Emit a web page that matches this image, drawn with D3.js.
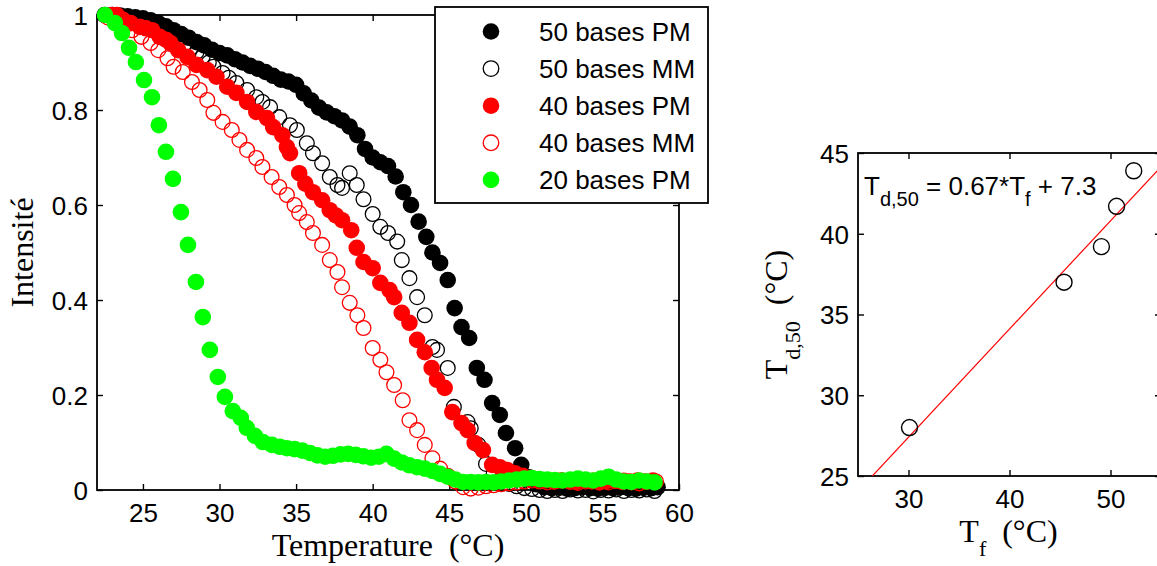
<!DOCTYPE html>
<html>
<head>
<meta charset="utf-8">
<script src="https://cdn.jsdelivr.net/npm/d3@7"></script>
<style>
  html, body { margin: 0; padding: 0; background: #fff; }
  svg { display: block; }
  text { white-space: pre; }
</style>
</head>
<body>
<svg id="fig" width="1157" height="566"></svg>
<script>
// Melting curves: [temperature (°C), normalised intensity]
const pm50 = [[22.5,1.0],[23.0,1.0],[23.5,0.999],[24.0,0.997],[24.5,0.995],[25.0,0.993],[25.5,0.989],[26.0,0.983],[26.5,0.976],[27.0,0.968],
  [27.5,0.96],[28.0,0.952],[28.5,0.943],[29.0,0.936],[29.5,0.927],[30.0,0.92],[30.5,0.915],[31.0,0.907],[31.5,0.9],[32.0,0.893],
  [32.5,0.887],[33.0,0.88],[33.5,0.872],[34.0,0.864],[34.5,0.86],[35.0,0.853],[35.5,0.835],[36.0,0.82],[36.5,0.805],[37.0,0.795],
  [37.5,0.787],[38.0,0.778],[38.5,0.765],[39.0,0.747],[39.5,0.718],[40.0,0.7],[40.5,0.69],[41.0,0.682],[41.5,0.66],[42.0,0.627],
  [42.5,0.6],[43.0,0.565],[43.5,0.533],[43.9,0.5],[44.4,0.478],[44.9,0.442],[45.35,0.383],[45.8,0.343],[46.3,0.32],[46.8,0.257],
  [47.3,0.232],[47.8,0.183],[48.3,0.158],[48.7,0.12],[49.3,0.088],[49.7,0.053],[50.2,0.027],[50.7,0.012],[51.2,0.006],[51.7,0.004],
  [52.2,0.005],[52.7,0.003],[53.2,0.004],[53.7,0.006],[54.2,0.004],[54.7,0.003],[55.2,0.005],[55.7,0.004],[56.2,0.006],[56.7,0.004],
  [57.2,0.003],[57.7,0.005],[58.2,0.004],[58.6,0.006]];

const mm50 = [[22.5,1.0],[23.0,0.998],[23.5,0.995],[24.2,0.99],[25.0,0.979],[25.9,0.964],[26.6,0.954],[27.2,0.943],[27.7,0.937],[28.1,0.93],
  [28.5,0.922],[28.9,0.912],[29.3,0.9],[29.6,0.891],[30.2,0.878],[30.6,0.868],[31.1,0.857],[31.8,0.842],[32.4,0.827],[32.8,0.817],
  [33.3,0.806],[33.9,0.785],[34.6,0.768],[35.05,0.758],[35.7,0.73],[36.1,0.709],[36.7,0.688],[37.2,0.659],[37.7,0.642],[38.0,0.636],
  [38.5,0.667],[38.96,0.642],[39.4,0.612],[40.0,0.581],[40.5,0.554],[41.0,0.541],[41.6,0.523],[41.9,0.484],[42.4,0.446],[42.9,0.406],
  [43.4,0.368],[43.9,0.301],[44.2,0.295],[44.9,0.257],[45.3,0.175],[46.2,0.143],[46.4,0.13],[46.9,0.095],[47.4,0.055],[47.9,0.035],
  [48.4,0.022],[48.9,0.013],[49.4,0.008],[49.9,0.004],[50.4,0.002],[50.9,0.0],[51.4,-0.002],[51.9,0.0],[52.4,-0.002],[52.9,0.001],
  [53.4,-0.001],[53.9,0.0],[54.4,-0.003],[54.9,0.0],[55.4,-0.001],[55.9,0.001],[56.4,-0.002],[56.9,0.0],[57.4,-0.001],[57.9,0.001],
  [58.4,-0.002]];

const pm40 = [[23.0,1.0],[23.3,1.0],[23.7,0.99],[24.2,0.983],[24.8,0.975],[25.2,0.972],[25.6,0.968],[26.1,0.954],[26.5,0.948],[26.8,0.941],
  [27.3,0.926],[27.9,0.912],[28.5,0.895],[29.2,0.884],[29.8,0.87],[30.5,0.849],[31.1,0.836],[31.8,0.817],[32.4,0.796],[33.1,0.783],
  [33.5,0.764],[34.1,0.747],[34.4,0.722],[34.6,0.709],[35.2,0.667],[35.6,0.645],[36.1,0.627],[36.7,0.61],[37.2,0.589],[37.6,0.578],
  [38.0,0.568],[38.6,0.547],[38.96,0.51],[39.4,0.48],[40.0,0.467],[40.5,0.436],[41.1,0.421],[41.4,0.406],[41.9,0.373],[42.4,0.352],
  [42.9,0.316],[43.4,0.29],[43.85,0.257],[44.2,0.232],[44.7,0.215],[45.2,0.164],[45.8,0.141],[46.2,0.126],[46.66,0.099],[47.2,0.084],
  [47.8,0.053],[48.3,0.048],[48.8,0.042],[49.3,0.035],[49.8,0.03],[50.3,0.025],[50.8,0.022],[51.3,0.02],[51.8,0.018],[52.3,0.02],
  [52.8,0.019],[53.3,0.017],[53.8,0.02],[54.3,0.018],[54.8,0.016],[55.3,0.019],[55.8,0.02],[56.3,0.017],[56.8,0.018],[57.3,0.02],
  [57.8,0.018],[58.3,0.02]];

const mm40 = [[22.7,0.995],[23.2,0.99],[23.7,0.983],[24.3,0.968],[24.9,0.954],[25.5,0.941],[26.0,0.926],[26.6,0.909],[27.0,0.891],[27.6,0.88],
  [28.2,0.859],[28.7,0.842],[29.2,0.821],[29.6,0.794],[30.2,0.775],[30.8,0.758],[31.3,0.737],[31.8,0.716],[32.4,0.699],[32.8,0.68],
  [33.4,0.659],[33.9,0.638],[34.4,0.621],[34.9,0.6],[35.2,0.583],[35.7,0.564],[36.1,0.541],[36.7,0.516],[37.2,0.484],[37.7,0.459],
  [38.0,0.427],[38.5,0.394],[39.0,0.368],[39.4,0.341],[40.0,0.299],[40.5,0.274],[40.9,0.248],[41.4,0.221],[41.96,0.189],[42.4,0.147],
  [42.9,0.126],[43.4,0.095],[43.9,0.067],[44.4,0.045],[44.9,0.03],[45.4,0.018],[45.9,0.006],[46.4,0.003],[46.9,0.005],[47.4,0.008],
  [47.9,0.01],[48.4,0.012],[48.9,0.014],[49.4,0.016],[49.9,0.018],[50.4,0.02],[50.9,0.018],[51.4,0.016],[51.9,0.018],[52.4,0.02],
  [52.9,0.017],[53.4,0.015],[53.9,0.018],[54.4,0.02],[54.9,0.017],[55.4,0.016],[55.9,0.019],[56.4,0.02],[56.9,0.016],[57.4,0.014],
  [57.9,0.017],[58.5,0.018]];

const pm20 = [[22.52,1.0],[23.17,0.983],[23.63,0.962],[24.09,0.931],[24.54,0.901],[25.07,0.863],[25.59,0.827],[26.04,0.768],[26.5,0.712],[26.96,0.655],
  [27.48,0.585],[27.94,0.516],[28.46,0.438],[28.91,0.364],[29.37,0.295],[29.89,0.238],[30.35,0.196],[30.87,0.166],[31.39,0.152],[31.78,0.131],
  [32.31,0.114],[32.83,0.101],[33.42,0.095],[33.94,0.091],[34.4,0.088],[34.9,0.086],[35.4,0.083],[35.9,0.078],[36.4,0.073],[36.9,0.07],
  [37.4,0.072],[37.9,0.075],[38.4,0.076],[38.9,0.074],[39.4,0.071],[39.9,0.068],[40.4,0.07],[40.9,0.076],[41.4,0.066],[41.9,0.058],
  [42.4,0.052],[42.9,0.048],[43.4,0.045],[43.9,0.04],[44.4,0.034],[44.9,0.028],[45.4,0.022],[45.9,0.017],[46.4,0.017],[46.9,0.016],
  [47.4,0.017],[47.9,0.016],[48.4,0.018],[48.9,0.02],[49.4,0.022],[49.9,0.024],[50.4,0.025],[50.9,0.023],[51.4,0.022],[51.9,0.021],
  [52.4,0.02],[52.9,0.022],[53.4,0.024],[53.9,0.022],[54.4,0.02],[54.9,0.024],[55.4,0.028],[55.9,0.022],[56.4,0.018],[56.9,0.017],
  [57.4,0.02],[57.9,0.018],[58.4,0.016]];

const legendLabels = ["50 bases PM", "50 bases MM", "40 bases PM", "40 bases MM", "20 bases PM"];
const tempTicks = [25, 30, 35, 40, 45, 50, 55, 60];
const intensityTicks = [0, 0.2, 0.4, 0.6, 0.8, 1];

// Denaturation temperature at half intensity vs. melting temperature
const tf = [30.1, 45.4, 49.1, 50.6, 52.3];
const td50 = [28.0, 37.0, 39.2, 41.7, 43.9];
const fitSlope = 0.67;
const fitIntercept = 7.3;
const tfTicks = [30, 40, 50];
const td50Ticks = [25, 30, 35, 40, 45];

const sans = '"Liberation Sans", Arial, Helvetica, sans-serif';
const serif = '"Liberation Serif", "Times New Roman", Times, serif';
const svg = d3.select("#fig");

function drawAxes(x, y, xTicks, yTicks, yFmt) {
  const [x0, x1] = x.range();
  const [y0, y1] = y.range();
  const g = svg.append("g");
  g.append("rect")
    .attr("x", x0).attr("y", y1).attr("width", x1 - x0).attr("height", y0 - y1)
    .attr("fill", "none").attr("stroke", "#000").attr("stroke-width", 1.8);

  const style = sel => {
    sel.attr("font-family", sans).attr("font-size", 26).attr("color", "#000");
    sel.select(".domain").remove();
    sel.selectAll(".tick line").attr("stroke-width", 1.4);
  };

  g.append("g").attr("transform", `translate(0,${y0})`)
    .call(d3.axisBottom(x).tickValues(xTicks).tickSizeInner(-6).tickSizeOuter(0).tickFormat(d3.format("d")))
    .call(style)
    .call(a => a.selectAll("text").attr("y", 32).attr("dy", null));
  g.append("g").attr("transform", `translate(0,${y1})`)
    .call(d3.axisTop(x).tickValues(xTicks).tickSizeInner(-6).tickSizeOuter(0).tickFormat(""))
    .call(style);
  g.append("g").attr("transform", `translate(${x0},0)`)
    .call(d3.axisLeft(y).tickValues(yTicks).tickSizeInner(-6).tickSizeOuter(0).tickFormat(yFmt))
    .call(style)
    .call(a => a.selectAll("text").attr("x", -9).attr("dy", "0.36em"));
  g.append("g").attr("transform", `translate(${x1},0)`)
    .call(d3.axisRight(y).tickValues(yTicks).tickSizeInner(-6).tickSizeOuter(0).tickFormat(""))
    .call(style);
  return g;
}

// ---------- Left panel: intensity vs temperature ----------
const xL = d3.scaleLinear().domain([22, 60]).range([97, 679]);
const yL = d3.scaleLinear().domain([0, 1]).range([490, 15]);
drawAxes(xL, yL, tempTicks, intensityTicks, d => String(d));

const series = [
  { data: pm50, color: "#000000", filled: true },
  { data: mm50, color: "#000000", filled: false },
  { data: pm40, color: "#ff0000", filled: true },
  { data: mm40, color: "#ff0000", filled: false },
  { data: pm20, color: "#00ff00", filled: true }
];

series.forEach(s => {
  svg.append("g").selectAll("circle").data(s.data).join("circle")
    .attr("cx", d => xL(d[0]))
    .attr("cy", d => yL(d[1]))
    .attr("r", s.filled ? 8.3 : 7.4)
    .attr("fill", s.filled ? s.color : "none")
    .attr("stroke", s.filled ? "none" : s.color)
    .attr("stroke-width", 1.3);
});

svg.append("text")
  .attr("x", (xL.range()[0] + xL.range()[1]) / 2).attr("y", 556)
  .attr("text-anchor", "middle").attr("font-family", serif).attr("font-size", 32)
  .text("Temperature  (°C)");

svg.append("text")
  .attr("transform", `translate(33,${(yL.range()[0] + yL.range()[1]) / 2}) rotate(-90)`)
  .attr("text-anchor", "middle").attr("font-family", serif).attr("font-size", 32)
  .text("Intensité");

// Legend
const legend = svg.append("g");
legend.append("rect")
  .attr("x", 435).attr("y", 7).attr("width", 273).attr("height", 196)
  .attr("fill", "#fff").attr("stroke", "#000").attr("stroke-width", 1.8);
const rows = legend.selectAll("g.row").data(series).join("g")
  .attr("class", "row")
  .attr("transform", (d, i) => `translate(0,${31.5 + i * 37.1})`);
rows.append("circle")
  .attr("cx", 491).attr("cy", 0).attr("r", d => d.filled ? 8.3 : 7.8)
  .attr("fill", d => d.filled ? d.color : "none")
  .attr("stroke", d => d.filled ? "none" : d.color)
  .attr("stroke-width", 1.3);
rows.append("text")
  .attr("x", 539).attr("y", 0).attr("dy", "0.36em")
  .attr("font-family", sans).attr("font-size", 26)
  .text((d, i) => legendLabels[i]);

// ---------- Right panel: Td,50 vs Tf ----------
const xR = d3.scaleLinear().domain([25, 55]).range([858, 1161]);
const yR = d3.scaleLinear().domain([25, 45]).range([476, 153]);
drawAxes(xR, yR, tfTicks, td50Ticks, d3.format("d"));

svg.append("clipPath").attr("id", "clipR")
  .append("rect")
  .attr("x", xR.range()[0]).attr("y", yR.range()[1])
  .attr("width", xR.range()[1] - xR.range()[0]).attr("height", yR.range()[0] - yR.range()[1]);

const fitLine = d3.line().x(d => xR(d)).y(d => yR(fitSlope * d + fitIntercept));
svg.append("path")
  .attr("clip-path", "url(#clipR)")
  .attr("d", fitLine(xR.domain()))
  .attr("fill", "none").attr("stroke", "#ff0000").attr("stroke-width", 1.2);

svg.append("g").selectAll("circle").data(tf).join("circle")
  .attr("cx", d => xR(d))
  .attr("cy", (d, i) => yR(td50[i]))
  .attr("r", 8)
  .attr("fill", "none").attr("stroke", "#000").attr("stroke-width", 1.4);

// Fit equation
const eq = svg.append("text")
  .attr("x", 864).attr("y", 195)
  .attr("font-family", sans).attr("font-size", 26);
eq.append("tspan").text("T");
eq.append("tspan").attr("dy", 11).attr("font-size", 20).text("d,50");
eq.append("tspan").attr("dy", -11).text(` = ${fitSlope}*T`);
eq.append("tspan").attr("dy", 11).attr("font-size", 20).text("f");
eq.append("tspan").attr("dy", -11).text(` + ${fitIntercept}`);

// Axis titles
const xt = svg.append("text")
  .attr("x", (xR.range()[0] + 1157) / 2 + 1).attr("y", 542)
  .attr("text-anchor", "middle").attr("font-family", serif).attr("font-size", 32);
xt.append("tspan").text("T");
xt.append("tspan").attr("dy", 14).attr("font-size", 22).text("f");
xt.append("tspan").attr("dy", -14).text("  (°C)");

const yt = svg.append("text")
  .attr("transform", `translate(787,${(yR.range()[0] + yR.range()[1]) / 2}) rotate(-90)`)
  .attr("text-anchor", "middle").attr("font-family", serif).attr("font-size", 32);
yt.append("tspan").text("T");
yt.append("tspan").attr("dy", 13).attr("font-size", 22).text("d,50");
yt.append("tspan").attr("dy", -13).text("  (°C)");
</script>
</body>
</html>
